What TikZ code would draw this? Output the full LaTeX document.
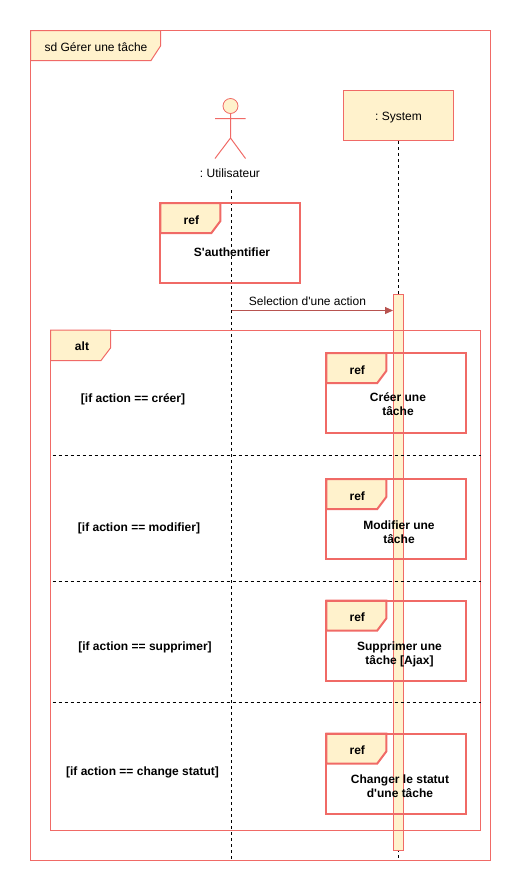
\documentclass[tikz,border=0pt]{standalone}
\usepackage{fontspec}
\setmainfont[Ligatures=TeXOff]{Liberation Sans}
\frenchspacing
\usetikzlibrary{arrows.meta}
\definecolor{lineRed}{HTML}{F06A66}
\definecolor{arrowRed}{HTML}{B85450}
\definecolor{tabFill}{HTML}{FFF2CC}
\tikzset{
  box/.style={draw=lineRed,fill=tabFill,line width=1pt},
  frameline/.style={draw=lineRed,line width=1pt},
  reframe/.style={draw=lineRed,line width=2pt},
  lifeline/.style={draw=black,dashed,dash pattern=on 3pt off 3pt,line width=1pt},
  txt/.style={inner sep=0pt,font=\fontsize{12}{14}\selectfont,align=center},
  bold/.style={txt,font=\fontsize{12}{14}\selectfont\bfseries},
}
% x y of the frame, then the name of its ref node, the place of the label and the label
\newcommand{\refframe}[5]{
\draw[reframe,fill=tabFill] (#1,#2) -- (#1+60,#2) -- (#1+60,#2+18) -- (#1+51,#2+30) -- (#1,#2+30) -- cycle;
\draw[reframe] (#1,#2) rectangle (#1+140,#2+80);
\node[bold] (#3tab) at (#1+31,#2+17) {ref};
\node[bold] (#3) at (#4) {#5};
}
\begin{document}
\begin{tikzpicture}[x=1pt,y=-1pt]
\useasboundingbox (0,0) rectangle (522,892);

\draw[frameline] (30.5,30.5) rectangle (490.5,860.5);
\draw[box] (30.5,30.5) -- (160.5,30.5) -- (160.5,46) -- (151,60.5) -- (30.5,60.5) -- cycle;
\node[txt] (sdlabel) at (96,47) {sd Gérer une tâche};

%actor
\draw[box,line width=.8pt] (230.5,106) circle (7.5);
\draw[frameline] (230.5,113.5) -- (230.5,138) (215,118.5) -- (245.5,118.5) (215,158.5) -- (230.5,138) -- (245.5,158.5);
\node[txt] (actor) at (230,173) {: Utilisateur};
\node[box,minimum width=110pt,minimum height=50pt,inner sep=0pt] (system) at (398.5,115.5) {};
\node[txt] (systemlabel) at (398.5,117.5) {: System};

\coordinate (actorTop) at (231.5,190);
\coordinate (actorEnd) at (231.5,860);
\coordinate (systemEnd) at (398.5,860);
\draw[lifeline] (system.south) -- (systemEnd);

\node[box,minimum width=10pt,minimum height=556pt,inner sep=0pt] (bar) at (398.5,572.5) {};

\draw[lifeline] (actorTop) -- (actorEnd);

\refframe{160.4}{203}{auth}{232,252.5}{S'authentifier}

\coordinate (msgStart) at (231.5,310.5);
\draw[arrowRed,line width=1pt,-{Triangle[length=8pt,width=7pt]}] (msgStart) -- (bar.west |- msgStart);
\node[txt] (msglabel) at (307.5,301) {Selection d'une action};

%alt
\draw[frameline] (50.5,330) rectangle (480.5,830.5);
\draw[box] (50.5,330) -- (110.5,330) -- (110.5,348) -- (101,360.5) -- (50.5,360.5) -- cycle;
\node[bold] (altlabel) at (82,346) {alt};

\foreach \y/\n in {455.5/a,581.5/b,702.5/c}
{
\coordinate (div\n) at (52.5,\y);
\coordinate (dive\n) at (480.5,\y);
\draw[lifeline] (div\n) -- (dive\n);
}

\node[bold] (g1) at (133,399) {[if action == créer]};
\node[bold] (g2) at (139,528.5) {[if action == modifier]};
\node[bold] (g3) at (145,647.5) {[if action == supprimer]};
\node[bold] (g4) at (142.5,772.5) {[if action == change statut]};

\refframe{326.3}{353}{creer}{398,404.5}{Créer une\\tâche}
\refframe{326.3}{479}{modifier}{399,532.5}{Modifier une\\tâche}
\refframe{326.3}{600.5}{supprimer}{399.5,654.5}{Supprimer une\\tâche [Ajax]}
\refframe{326.3}{733.5}{statut}{400,786.5}{Changer le statut\\d'une tâche}
\end{tikzpicture}
\end{document}
